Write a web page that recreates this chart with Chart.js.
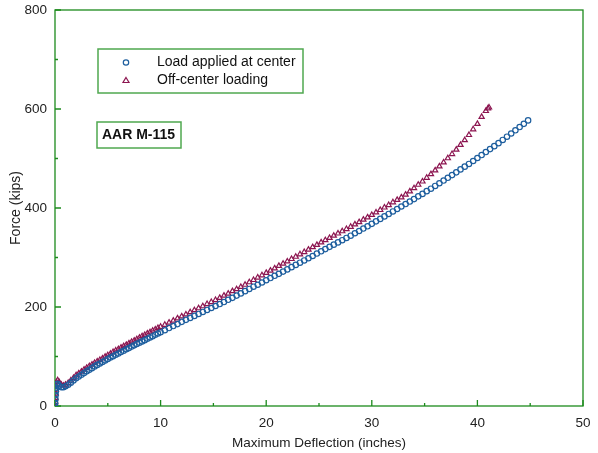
<!DOCTYPE html>
<html>
<head>
<meta charset="utf-8">
<script src="https://cdn.jsdelivr.net/npm/chart.js@4.4.1/dist/chart.umd.min.js"></script>
<style>
  html, body { margin: 0; padding: 0; background: #fff; }
  #wrap { position: relative; width: 598px; height: 453px; }
</style>
</head>
<body>
<div id="wrap"><canvas id="chart" width="598" height="453"></canvas></div>
<script>
// load applied at center (circles)
const centerDefl = [0, 0.02, 0.04, 0.06, 0.08, 0.1, 0.15, 0.25, 0.4, 0.6, 0.8,
  1.0, 1.25, 1.5, 1.75, 2.0, 2.25, 2.5, 2.75, 3.0, 3.25, 3.5, 3.75, 4.0, 4.25, 4.5, 4.75,
  5.0, 5.25, 5.5, 5.75, 6.0, 6.25, 6.5, 6.75, 7.0, 7.25, 7.5, 7.75, 8.0, 8.25, 8.5, 8.75,
  9.0, 9.25, 9.5, 9.75, 10.0,
  10.4, 10.8, 11.2, 11.6, 12.0, 12.4, 12.8, 13.2, 13.6, 14.0, 14.4, 14.8, 15.2, 15.6, 16.0,
  16.4, 16.8, 17.2, 17.6, 18.0, 18.4, 18.8, 19.2, 19.6, 20.0, 20.4, 20.8, 21.2, 21.6, 22.0,
  22.4, 22.8, 23.2, 23.6, 24.0, 24.4, 24.8, 25.2, 25.6, 26.0, 26.4, 26.8, 27.2, 27.6, 28.0,
  28.4, 28.8, 29.2, 29.6, 30.0, 30.4, 30.8, 31.2, 31.6, 32.0, 32.4, 32.8, 33.2, 33.6, 34.0,
  34.4, 34.8, 35.2, 35.6, 36.0, 36.4, 36.8, 37.2, 37.6, 38.0, 38.4, 38.8, 39.2, 39.6, 40.0,
  40.4, 40.8, 41.2, 41.6, 42.0, 42.4, 42.8, 43.2, 43.6, 44.0, 44.4, 44.8];
const centerForce = [0, 6, 14, 22, 30, 37, 43, 45, 41, 38, 38,
  40, 43, 47, 51.5, 56, 59.5, 63, 66.5, 70, 73, 76.5, 80, 83, 86, 89, 92,
  95, 98, 100.5, 103.5, 106, 109, 111.5, 114.5, 117, 120, 122.5, 125.5, 128, 130.5, 133, 136,
  138.5, 141, 144, 146.5, 149,
  153, 157.5, 161.5, 165.5, 170, 174, 178, 182, 186, 190, 194, 198, 202, 206, 210,
  214.5, 218.5, 223, 227.5, 232, 236.5, 241, 245, 249.5, 254, 258.5, 263, 267, 271.5, 276,
  280.5, 285, 289.5, 294, 298.5, 303, 308, 312.5, 317, 321.5, 326, 330.5, 335, 339.5, 344,
  349, 353.5, 358.5, 363, 368, 373, 378, 383, 388, 393, 398, 403, 408, 413, 418,
  423.5, 428.5, 434, 439, 444.5, 450, 455.5, 461, 466.5, 472, 478, 483.5, 489, 495, 501,
  507, 513, 519, 525, 531, 537.5, 544, 550.5, 557, 563.5, 570, 577];

// off-center loading (triangles)
const offDefl = [0, 0.02, 0.04, 0.06, 0.08, 0.1, 0.15, 0.25, 0.4, 0.6, 0.8,
  1.0, 1.25, 1.5, 1.75, 2.0, 2.25, 2.5, 2.75, 3.0, 3.25, 3.5, 3.75, 4.0, 4.25, 4.5, 4.75,
  5.0, 5.25, 5.5, 5.75, 6.0, 6.25, 6.5, 6.75, 7.0, 7.25, 7.5, 7.75, 8.0, 8.25, 8.5, 8.75,
  9.0, 9.25, 9.5, 9.75, 10.0,
  10.4, 10.8, 11.2, 11.6, 12.0, 12.4, 12.8, 13.2, 13.6, 14.0, 14.4, 14.8, 15.2, 15.6, 16.0,
  16.4, 16.8, 17.2, 17.6, 18.0, 18.4, 18.8, 19.2, 19.6, 20.0, 20.4, 20.8, 21.2, 21.6, 22.0,
  22.4, 22.8, 23.2, 23.6, 24.0, 24.4, 24.8, 25.2, 25.6, 26.0, 26.4, 26.8, 27.2, 27.6, 28.0,
  28.4, 28.8, 29.2, 29.6, 30.0, 30.4, 30.8, 31.2, 31.6, 32.0, 32.4, 32.8, 33.2, 33.6, 34.0,
  34.4, 34.8, 35.2, 35.6, 36.0, 36.4, 36.8, 37.2, 37.6, 38.0, 38.4, 38.8, 39.2, 39.6, 40.0,
  40.4, 40.8, 41.0, 41.1];
const offForce = [0, 8, 16, 25, 33, 41, 48, 52, 48, 43, 41,
  43, 46.5, 51.5, 56.5, 62, 66, 69.5, 73.5, 77, 80.5, 83.5, 87, 90, 93, 96, 99.5,
  102.5, 105.5, 109, 112, 115, 118, 121, 123.5, 126.5, 129.5, 132, 135, 138, 141, 143.5, 146.5,
  149, 152, 154.5, 157.5, 160,
  164, 168.5, 172.5, 177, 181, 185, 189.5, 193.5, 197.5, 201.5, 206, 210, 214, 218.5, 223,
  227, 232, 236, 240.5, 245, 250, 254.5, 259.5, 264, 269, 273.5, 278, 283, 287.5, 292,
  297, 301.5, 306.5, 311, 316, 321, 325.5, 330.5, 335, 339.5, 344, 348.5, 353, 357.5, 362,
  367, 371.5, 376.5, 381, 386, 391, 396, 401, 406, 411.5, 416.5, 421.5, 427, 433.5, 440,
  447, 453.5, 461, 468.5, 476, 484, 492, 500.5, 509, 518, 527.5, 537, 547.5, 559, 570,
  584, 596, 601, 603];

const xTicks = [0, 10, 20, 30, 40, 50];
const yTicks = [0, 200, 400, 600, 800];

const axisGreen = '#1c8a1c';
const blue = '#1d5e9e';
const maroon = '#8c1550';
const fontFamily = '"Liberation Sans", Arial, sans-serif';

function toPoints(xs, ys) {
    return xs.map((x, i) => ({ x: x, y: ys[i] }));
}

// frame + inward ticks, legend box and label box
const framePlugin = {
    id: 'frame',
    beforeDatasetsDraw(chart) {
        const { ctx, chartArea: a, scales } = chart;
        ctx.save();
        ctx.strokeStyle = axisGreen;
        ctx.lineWidth = 1.3;
        ctx.strokeRect(a.left, a.top, a.right - a.left, a.bottom - a.top);
        ctx.beginPath();
        for (let v = 0; v <= 50; v += 5) {
            const px = scales.x.getPixelForValue(v);
            const len = v % 10 === 0 ? 6 : 3;
            ctx.moveTo(px, a.bottom);
            ctx.lineTo(px, a.bottom - len);
        }
        for (let v = 0; v <= 800; v += 100) {
            const py = scales.y.getPixelForValue(v);
            const len = v % 200 === 0 ? 6 : 3;
            ctx.moveTo(a.left, py);
            ctx.lineTo(a.left + len, py);
        }
        ctx.stroke();
        ctx.restore();
    },
    afterDraw(chart) {
        const ctx = chart.ctx;
        ctx.save();
        ctx.strokeStyle = '#4fa84f';
        ctx.lineWidth = 1.5;
        ctx.strokeRect(98, 49, 205, 44);
        ctx.strokeRect(97, 122, 84, 26);

        // legend symbols
        ctx.lineWidth = 1.2;
        ctx.strokeStyle = blue;
        ctx.beginPath();
        ctx.arc(126, 62.5, 2.7, 0, Math.PI * 2);
        ctx.stroke();
        ctx.strokeStyle = maroon;
        ctx.beginPath();
        ctx.moveTo(126, 77.5);
        ctx.lineTo(129, 82.5);
        ctx.lineTo(123, 82.5);
        ctx.closePath();
        ctx.stroke();

        ctx.fillStyle = '#111';
        ctx.textBaseline = 'middle';
        ctx.font = '14px ' + fontFamily;
        ctx.fillText('Load applied at center', 157, 62.5);
        ctx.fillText('Off-center loading', 157, 80);
        ctx.font = 'bold 14px ' + fontFamily;
        ctx.textAlign = 'center';
        ctx.fillText('AAR M-115', 138.5, 135.5);
        ctx.restore();
    }
};

new Chart(document.getElementById('chart'), {
    type: 'scatter',
    data: {
        datasets: [
            {
                label: 'Load applied at center',
                data: toPoints(centerDefl, centerForce),
                pointStyle: 'circle',
                pointRadius: 2.7,
                pointBorderWidth: 1.2,
                borderColor: blue,
                backgroundColor: 'rgba(0,0,0,0)',
                showLine: false
            },
            {
                label: 'Off-center loading',
                data: toPoints(offDefl, offForce),
                pointStyle: 'triangle',
                pointRadius: 3,
                pointBorderWidth: 1.2,
                borderColor: maroon,
                backgroundColor: 'rgba(0,0,0,0)',
                showLine: false
            }
        ]
    },
    options: {
        responsive: false,
        animation: false,
        layout: { padding: { top: 10, right: 15, left: 0, bottom: 0 } },
        plugins: {
            legend: { display: false },
            tooltip: { enabled: false }
        },
        scales: {
            x: {
                type: 'linear',
                min: 0,
                max: 50,
                afterBuildTicks: axis => { axis.ticks = xTicks.map(v => ({ value: v })); },
                afterFit: axis => {
                    axis.height = 47;
                    axis.paddingLeft = 0;
                    axis.paddingRight = 0;
                },
                grid: { display: false, drawTicks: false },
                border: { display: false },
                ticks: { color: '#222', padding: 9, font: { size: 13.5, family: fontFamily } },
                title: {
                    display: true,
                    text: 'Maximum Deflection (inches)',
                    color: '#222',
                    padding: { top: 0, bottom: 2 },
                    font: { size: 13.5, family: fontFamily }
                }
            },
            y: {
                type: 'linear',
                min: 0,
                max: 800,
                afterBuildTicks: axis => { axis.ticks = yTicks.map(v => ({ value: v })); },
                afterFit: axis => {
                    axis.width = 55;
                    axis.paddingTop = 0;
                    axis.paddingBottom = 0;
                },
                grid: { display: false, drawTicks: false },
                border: { display: false },
                ticks: { color: '#222', padding: 8, font: { size: 13.5, family: fontFamily } },
                title: {
                    display: true,
                    text: 'Force (kips)',
                    color: '#222',
                    padding: { top: 8, bottom: 0 },
                    font: { size: 14, family: fontFamily }
                }
            }
        }
    },
    plugins: [framePlugin]
});
</script>
</body>
</html>
